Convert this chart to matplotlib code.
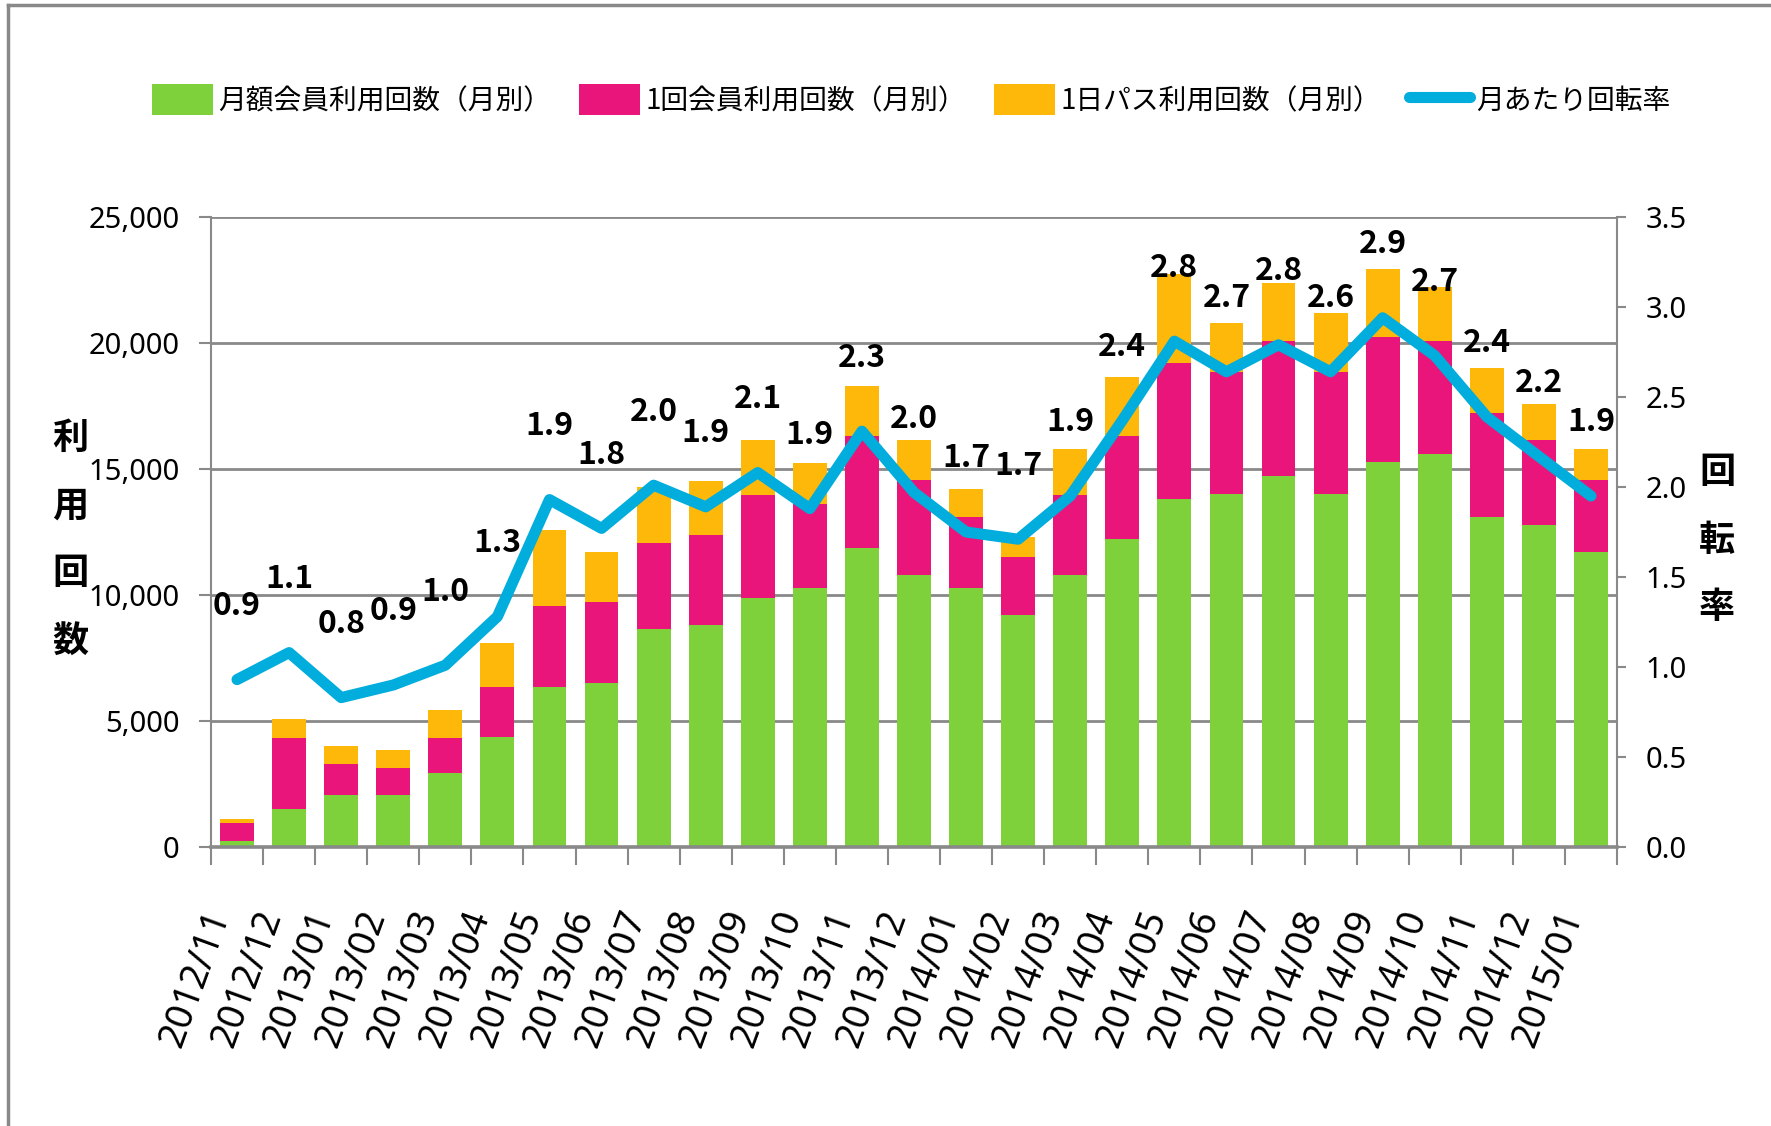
import matplotlib
matplotlib.use("Agg")
import matplotlib.pyplot as plt
import numpy as np
from matplotlib.patches import Patch
from matplotlib.lines import Line2D

months = ["2012/11", "2012/12", "2013/01", "2013/02", "2013/03", "2013/04", "2013/05",
          "2013/06", "2013/07", "2013/08", "2013/09", "2013/10", "2013/11", "2013/12",
          "2014/01", "2014/02", "2014/03", "2014/04", "2014/05", "2014/06", "2014/07",
          "2014/08", "2014/09", "2014/10", "2014/11", "2014/12", "2015/01"]
monthly_members = [250, 1510, 2060, 2060, 2940, 4360, 6330, 6500, 8660, 8820, 9900, 10260, 11870,
                   10790, 10260, 9200, 10790, 12230, 13800, 14000, 14720, 14000, 15260, 15610,
                   13110, 12760, 11690]
single_members = [710, 2830, 1240, 1060, 1400, 1970, 3220, 3210, 3390, 3560, 4060, 3370, 4450,
                  3760, 2850, 2300, 3190, 4090, 5390, 4830, 5340, 4830, 4990, 4450, 4110, 3380, 2860]
day_pass = [170, 750, 700, 710, 1100, 1780, 3030, 1980, 2250, 2140, 2180, 1610, 1960,
            1590, 1080, 800, 1810, 2340, 3560, 1970, 2340, 2370, 2680, 2160, 1790, 1440, 1240]
rate = [0.93, 1.08, 0.83, 0.90, 1.01, 1.28, 1.93, 1.77, 2.01, 1.89, 2.08, 1.88, 2.31,
        1.97, 1.75, 1.71, 1.95, 2.37, 2.81, 2.64, 2.79, 2.64, 2.94, 2.73, 2.39, 2.17, 1.95]
rate_labels = ["0.9", "1.1", "0.8", "0.9", "1.0", "1.3", "1.9", "1.8", "2.0", "1.9", "2.1", "1.9", "2.3",
               "2.0", "1.7", "1.7", "1.9", "2.4", "2.8", "2.7", "2.8", "2.6", "2.9", "2.7", "2.4", "2.2", "1.9"]
series_names = ["月額会員利用回数（月別）", "1回会員利用回数（月別）", "1日パス利用回数（月別）", "月あたり回転率"]
left_ticks = [0, 5000, 10000, 15000, 20000, 25000]
right_ticks = [0.0, 0.5, 1.0, 1.5, 2.0, 2.5, 3.0, 3.5]

C_GREEN = "#7FD13B"
C_PINK = "#EA157A"
C_ORANGE = "#FEB80A"
C_BLUE = "#00ADDC"
C_GRAY = "#898989"

NUM_FONT = ["Noto Sans", "DejaVu Sans"]
CJK_FONT = ["Noto Sans CJK JP", "DejaVu Sans"]

W, H = 1771, 1126
fig = plt.figure(figsize=(W / 100, H / 100), dpi=100)
fig.patch.set_facecolor("white")

# outer frame (top and left edges visible)
fig.add_artist(Line2D([8 / W, 1.0], [1 - 5 / H, 1 - 5 / H], transform=fig.transFigure,
                      color=C_GRAY, lw=2.5))
fig.add_artist(Line2D([8 / W, 8 / W], [0, 1 - 5 / H], transform=fig.transFigure,
                      color=C_GRAY, lw=2.5))

left, right, bottom, top = 211 / W, 1617 / W, 1 - 847 / H, 1 - 217 / H
ax = fig.add_axes([left, bottom, right - left, top - bottom])
ax2 = ax.twinx()

x = np.arange(len(months))
g = np.array(monthly_members)
p = np.array(single_members)
o = np.array(day_pass)
bw = 0.65
ax.bar(x, g, bw, color=C_GREEN, zorder=3)
ax.bar(x, p, bw, bottom=g, color=C_PINK, zorder=3)
ax.bar(x, o, bw, bottom=g + p, color=C_ORANGE, zorder=3)

ax.set_xlim(-0.5, len(months) - 0.5)
ax.set_ylim(0, 25000)
ax.set_yticks(left_ticks)
ax.set_yticklabels([f"{v:,}" for v in left_ticks], fontfamily=NUM_FONT, fontsize=21)
ax.yaxis.grid(True, color=C_GRAY, lw=2.0, zorder=0)
ax.set_axisbelow(True)
ax.tick_params(axis="y", direction="out", length=8.6, width=1.5, color=C_GRAY, pad=14)

ax.set_xticks(x)
ax.set_xticklabels(months, rotation=70, ha="right", va="top", fontfamily=NUM_FONT, fontsize=27)
ax.set_xticks(np.arange(-0.5, len(months)), minor=True)
ax.tick_params(axis="x", which="major", length=0, pad=42)
ax.tick_params(axis="x", which="minor", direction="out", length=13, width=1.5, color=C_GRAY)

for s in ["top", "right"]:
    ax.spines[s].set_visible(False)
ax.spines["left"].set_color(C_GRAY)
ax.spines["left"].set_linewidth(1.5)
ax.spines["bottom"].set_color(C_GRAY)
ax.spines["bottom"].set_linewidth(2.6)
ax.spines["bottom"].set_zorder(4)

ax2.plot(x, rate, color=C_BLUE, lw=8, solid_capstyle="round", solid_joinstyle="round", zorder=5)
ax2.set_ylim(0, 3.5)
ax2.set_yticks(right_ticks)
ax2.set_yticklabels([f"{v:.1f}" for v in right_ticks], fontfamily=NUM_FONT, fontsize=21)
ax2.tick_params(axis="y", direction="out", length=6.5, width=1.5, color=C_GRAY, pad=14)
for s in ["top", "left", "bottom"]:
    ax2.spines[s].set_visible(False)
ax2.spines["right"].set_color(C_GRAY)
ax2.spines["right"].set_linewidth(1.5)

for xi, r, lab in zip(x, rate, rate_labels):
    ax2.annotate(lab, (xi, r), xytext=(0, 53), textcoords="offset points",
                 ha="center", va="center", fontfamily=CJK_FONT, fontweight="bold",
                 fontsize=23, zorder=6)

# axis titles (vertical stacked characters)
fig.text(70 / W, 1 - 540 / H, "利\n用\n回\n数", ha="center", va="center",
         fontfamily=CJK_FONT, fontweight="bold", fontsize=26, linespacing=2.05)
fig.text(1717 / W, 1 - 540 / H, "回\n転\n率", ha="center", va="center",
         fontfamily=CJK_FONT, fontweight="bold", fontsize=26, linespacing=2.05)

handles = [Patch(facecolor=C_GREEN, edgecolor="none"),
           Patch(facecolor=C_PINK, edgecolor="none"),
           Patch(facecolor=C_ORANGE, edgecolor="none"),
           Line2D([0], [0], color=C_BLUE, lw=8, solid_capstyle="round")]
leg = fig.legend(handles, series_names, loc="center", bbox_to_anchor=(911 / W, 1 - 100 / H),
                 ncol=4, frameon=False, handlelength=2.2, handleheight=1.33,
                 handletextpad=0.2, columnspacing=1.0,
                 prop={"family": CJK_FONT, "size": 20})

fig.savefig("out.png", dpi=100, facecolor="white")
